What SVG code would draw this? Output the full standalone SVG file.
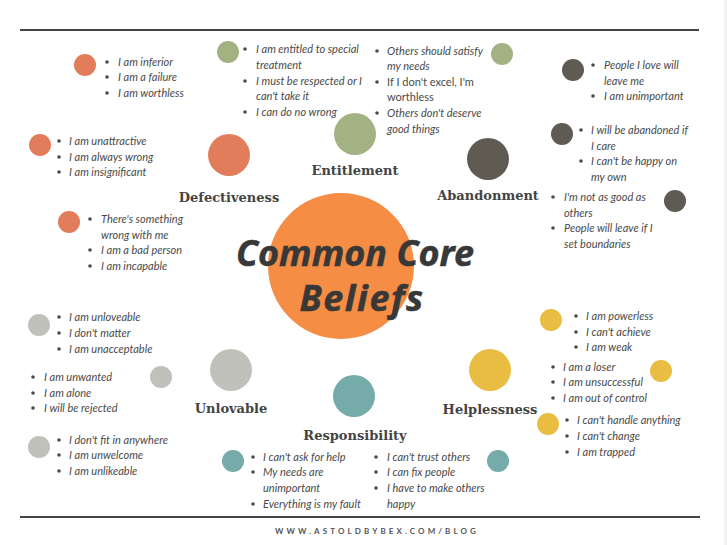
<svg xmlns="http://www.w3.org/2000/svg" width="727" height="545" viewBox="0 0 727 545">
<style>
.t{font-family:Lato,"Open Sans","Liberation Sans",sans-serif;font-size:11px;font-style:italic;fill:#4a4a4a}
.u{font-style:normal}
.lbl{font-family:"DejaVu Serif","Liberation Serif",serif;font-size:13px;font-weight:bold;fill:#444;text-anchor:middle}
.title{font-family:"Noto Sans","DejaVu Sans",sans-serif;font-weight:bold;font-style:italic;font-size:36px;fill:#383838;stroke:#383838;stroke-width:0.5;text-anchor:middle}
.d{fill:#E27D5B}.e{fill:#A3B283}.a{fill:#5F5B52}.l{fill:#C0C1BA}.r{fill:#75ABA9}.h{fill:#E9BD42}
.dot{fill:#4a4a4a}
</style>
<defs><circle id="b" r="1.8" class="dot"/></defs>
<rect width="727" height="545" fill="#fff"/>
<rect x="724" y="0" width="3" height="545" fill="#f2f2f2"/>
<g id="frame">
<line x1="20" y1="30" x2="699" y2="30" stroke="#444" stroke-width="2.2"/>
<line x1="20" y1="517" x2="700" y2="517" stroke="#444" stroke-width="2.2"/>
<text x="275" y="534" font-family="Lato,'Liberation Sans',sans-serif" font-size="8" font-weight="bold" letter-spacing="3.1" fill="#555">WWW.ASTOLDBYBEX.COM/BLOG</text>
</g>
<g id="center">
<circle cx="341" cy="266" r="73" fill="#F68D45"/>
<text class="title" x="355" y="266">Common Core</text>
<text class="title" x="362" y="311" letter-spacing="1.5">Beliefs</text>
</g>
<g id="connectors"></g>
<g id="defectiveness">
<circle class="d" cx="229" cy="155" r="21"/>
<text class="lbl" x="229" y="202">Defectiveness</text>
<circle class="d" cx="85" cy="65" r="11"/>
<use href="#b" x="107" y="62"/><use href="#b" x="107" y="77"/><use href="#b" x="107" y="93"/>
<text class="t" x="118" y="66">I am inferior</text>
<text class="t" x="118" y="81">I am a failure</text>
<text class="t" x="118" y="97">I am worthless</text>
<circle class="d" cx="40" cy="145" r="11"/>
<use href="#b" x="59" y="141"/><use href="#b" x="59" y="157"/><use href="#b" x="59" y="172"/>
<text class="t" x="69" y="145">I am unattractive</text>
<text class="t" x="69" y="161">I am always wrong</text>
<text class="t" x="69" y="176">I am insignificant</text>
<circle class="d" cx="69" cy="222" r="11"/>
<use href="#b" x="90" y="219"/><use href="#b" x="90" y="250"/><use href="#b" x="90" y="266"/>
<text class="t" x="101" y="223">There's something</text>
<text class="t" x="101" y="239">wrong with me</text>
<text class="t" x="101" y="254">I am a bad person</text>
<text class="t" x="101" y="270">I am incapable</text>
</g>
<g id="entitlement">
<circle class="e" cx="355" cy="134" r="21"/>
<text class="lbl" x="355" y="175">Entitlement</text>
<circle class="e" cx="228" cy="52" r="11"/>
<use href="#b" x="245" y="49"/><use href="#b" x="245" y="81"/><use href="#b" x="245" y="112"/>
<text class="t" x="256" y="53">I am entitled to special</text>
<text class="t" x="256" y="69">treatment</text>
<text class="t" x="256" y="85">I must be respected or I</text>
<text class="t" x="256" y="100">can't take it</text>
<text class="t" x="256" y="116">I can do no wrong</text>
<circle class="e" cx="502" cy="54" r="11"/>
<use href="#b" x="377" y="51"/><use href="#b" x="377" y="82"/><use href="#b" x="377" y="113"/>
<text class="t" x="387" y="55">Others should satisfy</text>
<text class="t" x="387" y="70">my needs</text>
<text class="t u" x="387" y="86">If I don't excel, I'm</text>
<text class="t u" x="387" y="101">worthless</text>
<text class="t" x="387" y="117">Others don't deserve</text>
<text class="t" x="387" y="133">good things</text>
</g>
<g id="abandonment">
<circle class="a" cx="488" cy="159" r="21"/>
<text class="lbl" x="488" y="200">Abandonment</text>
<circle class="a" cx="573" cy="70" r="11"/>
<use href="#b" x="593" y="65"/><use href="#b" x="593" y="96"/>
<text class="t" x="604" y="69">People I love will</text>
<text class="t" x="604" y="85">leave me</text>
<text class="t" x="604" y="100">I am unimportant</text>
<circle class="a" cx="562" cy="134" r="11"/>
<use href="#b" x="581" y="130"/><use href="#b" x="581" y="161"/>
<text class="t" x="591" y="134">I will be abandoned if</text>
<text class="t" x="591" y="150">I care</text>
<text class="t" x="591" y="165">I can't be happy on</text>
<text class="t" x="591" y="181">my own</text>
<circle class="a" cx="675" cy="201" r="11"/>
<use href="#b" x="553" y="197"/><use href="#b" x="553" y="228"/>
<text class="t" x="564" y="201">I'm not as good as</text>
<text class="t" x="564" y="217">others</text>
<text class="t" x="564" y="232">People will leave if I</text>
<text class="t" x="564" y="248">set boundaries</text>
</g>
<g id="unlovable">
<circle class="l" cx="231" cy="370" r="21"/>
<text class="lbl" x="231" y="413">Unlovable</text>
<circle class="l" cx="39" cy="325" r="11"/>
<use href="#b" x="59" y="317"/><use href="#b" x="59" y="333"/><use href="#b" x="59" y="349"/>
<text class="t" x="69" y="321">I am unloveable</text>
<text class="t" x="69" y="337">I don't matter</text>
<text class="t" x="69" y="353">I am unacceptable</text>
<circle class="l" cx="161" cy="377" r="11"/>
<use href="#b" x="33" y="377"/><use href="#b" x="33" y="393"/><use href="#b" x="33" y="408"/>
<text class="t" x="44" y="381">I am unwanted</text>
<text class="t" x="44" y="397">I am alone</text>
<text class="t" x="44" y="412">I will be rejected</text>
<circle class="l" cx="39" cy="447" r="11"/>
<use href="#b" x="59" y="440"/><use href="#b" x="59" y="455"/><use href="#b" x="59" y="471"/>
<text class="t" x="69" y="444">I don't fit in anywhere</text>
<text class="t" x="69" y="459">I am unwelcome</text>
<text class="t" x="69" y="475">I am unlikeable</text>
</g>
<g id="responsibility">
<circle class="r" cx="354" cy="396" r="21"/>
<text class="lbl" x="355" y="440">Responsibility</text>
<circle class="r" cx="233" cy="461" r="11"/>
<use href="#b" x="253" y="457"/><use href="#b" x="253" y="472"/><use href="#b" x="253" y="504"/>
<text class="t" x="263" y="461">I can't ask for help</text>
<text class="t" x="263" y="476">My needs are</text>
<text class="t" x="263" y="492">unimportant</text>
<text class="t" x="263" y="508">Everything is my fault</text>
<circle class="r" cx="498" cy="461" r="11"/>
<use href="#b" x="376" y="457"/><use href="#b" x="376" y="472"/><use href="#b" x="376" y="488"/>
<text class="t" x="387" y="461">I can't trust others</text>
<text class="t" x="387" y="476">I can fix people</text>
<text class="t" x="387" y="492">I have to make others</text>
<text class="t" x="387" y="508">happy</text>
</g>
<g id="helplessness">
<circle class="h" cx="490" cy="370" r="21"/>
<text class="lbl" x="490" y="414">Helplessness</text>
<circle class="h" cx="551" cy="320" r="11"/>
<use href="#b" x="576" y="316"/><use href="#b" x="576" y="332"/><use href="#b" x="576" y="347"/>
<text class="t" x="586" y="320">I am powerless</text>
<text class="t" x="586" y="336">I can't achieve</text>
<text class="t" x="586" y="351">I am weak</text>
<circle class="h" cx="661" cy="371" r="11"/>
<use href="#b" x="553" y="367"/><use href="#b" x="553" y="382"/><use href="#b" x="553" y="398"/>
<text class="t" x="563" y="371">I am a loser</text>
<text class="t" x="563" y="386">I am unsuccessful</text>
<text class="t" x="563" y="402">I am out of control</text>
<circle class="h" cx="548" cy="424" r="11"/>
<use href="#b" x="567" y="420"/><use href="#b" x="567" y="436"/><use href="#b" x="567" y="452"/>
<text class="t" x="577" y="424">I can't handle anything</text>
<text class="t" x="577" y="440">I can't change</text>
<text class="t" x="577" y="456">I am trapped</text>
</g>
</svg>
